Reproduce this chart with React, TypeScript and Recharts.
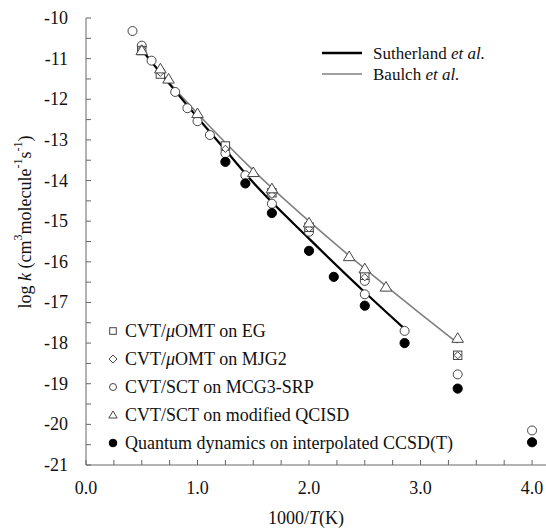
import React from 'react';
import { ComposedChart, Line, Scatter, XAxis, YAxis } from 'recharts';

// ---- data ----
const sutherlandX = [0.5, 0.667, 1.0, 1.25, 1.5, 2.0, 2.5, 2.857];
const sutherlandY = [-10.78, -11.35, -12.45, -13.25, -14.05, -15.43, -16.75, -17.65];
const baulchX = [0.5, 0.75, 1.0, 1.5, 2.0, 2.5, 3.0, 3.333];
const baulchY = [-10.8, -11.6, -12.35, -13.75, -15.0, -16.17, -17.28, -18.0];

const egX = [0.5, 0.667, 1.25, 1.667, 2.0, 2.5, 3.333];
const egY = [-10.8, -11.38, -13.15, -14.3, -15.15, -16.33, -18.3];
const mjgX = [0.5, 0.667, 1.25, 1.667, 2.0, 2.5, 3.333];
const mjgY = [-10.75, -11.35, -13.22, -14.35, -15.18, -16.38, -18.3];
const mcgX = [0.417, 0.5, 0.588, 0.8, 0.909, 1.0, 1.111, 1.25, 1.429, 1.667, 2.0, 2.5, 2.5, 2.857, 3.333, 4.0];
const mcgY = [-10.32, -10.68, -11.05, -11.82, -12.22, -12.54, -12.88, -13.33, -13.87, -14.57, -15.26, -16.47, -16.8, -17.7, -18.77, -20.15];
const qcisdX = [0.5, 0.667, 0.74, 1.0, 1.5, 1.667, 2.0, 2.36, 2.5, 2.69, 3.333];
const qcisdY = [-10.8, -11.25, -11.5, -12.35, -13.8, -14.2, -15.04, -15.87, -16.17, -16.62, -17.88];
const qdX = [1.25, 1.429, 1.667, 2.0, 2.222, 2.5, 2.857, 3.333, 4.0];
const qdY = [-13.54, -14.07, -14.8, -15.73, -16.37, -17.08, -18.0, -19.12, -20.44];

const xTicks = [0, 0.25, 0.5, 0.75, 1, 1.25, 1.5, 1.75, 2, 2.25, 2.5, 2.75, 3, 3.25, 3.5, 3.75, 4];
const yTicks = [-21, -20.5, -20, -19.5, -19, -18.5, -18, -17.5, -17, -16.5, -16, -15.5, -15, -14.5, -14, -13.5, -13, -12.5, -12, -11.5, -11, -10.5, -10];

const zip = (xs: number[], ys: number[]) => xs.map((x, i) => ({ x, y: ys[i] }));

const FONT = '"Liberation Serif", "Times New Roman", serif';
const MK = '#444';
const AX = '#666';

const CircleShape = (r: number) => (p: any) => (
  <circle cx={p.cx} cy={p.cy} r={r} fill="#fff" stroke={MK} strokeWidth={1} />
);
const FilledShape = (r: number) => (p: any) => (
  <circle cx={p.cx} cy={p.cy} r={r} fill="#000" stroke="#000" strokeWidth={1} />
);
const SquareShape = (s: number) => (p: any) => (
  <rect x={p.cx - s} y={p.cy - s} width={2 * s} height={2 * s} fill="#fff" stroke={MK} strokeWidth={1} />
);
const DiamondShape = (s: number) => (p: any) => (
  <polygon
    points={`${p.cx},${p.cy - s} ${p.cx + s},${p.cy} ${p.cx},${p.cy + s} ${p.cx - s},${p.cy}`}
    fill="#fff" stroke={MK} strokeWidth={1} />
);
const TriangleShape = (s: number) => (p: any) => (
  <polygon
    points={`${p.cx},${p.cy - s} ${p.cx + s * 1.05},${p.cy + s * 0.75} ${p.cx - s * 1.05},${p.cy + s * 0.75}`}
    fill="#fff" stroke={MK} strokeWidth={1} />
);

const XTick = (p: any) => {
  const v = p.payload.value;
  const isMajor = Math.abs(v - Math.round(v)) < 1e-6;
  return (
    <g>
      <line x1={p.x} y1={p.y} x2={p.x} y2={p.y - 5} stroke={AX} strokeWidth={1} />
      {isMajor && (
        <text x={p.x} y={p.y + 23} textAnchor="middle" dominantBaseline="central" fontFamily={FONT} fontSize={18} fill="#111">
          {v.toFixed(1)}
        </text>
      )}
    </g>
  );
};

const YTick = (p: any) => {
  const v = p.payload.value;
  const isMajor = Math.abs(v - Math.round(v)) < 1e-6;
  return (
    <g>
      <line x1={p.x} y1={p.y} x2={p.x + 5} y2={p.y} stroke={AX} strokeWidth={1} />
      {isMajor && (
        <text x={p.x - 18} y={p.y} textAnchor="end" dominantBaseline="central" fontFamily={FONT} fontSize={18} fill="#111">
          {String(v)}
        </text>
      )}
    </g>
  );
};

export default function App() {
  const legendRows = [
    { label: <>CVT/<tspan fontStyle="italic">μ</tspan>OMT on EG</>, shape: 'square' },
    { label: <>CVT/<tspan fontStyle="italic">μ</tspan>OMT on MJG2</>, shape: 'diamond' },
    { label: <>CVT/SCT on MCG3-SRP</>, shape: 'circle' },
    { label: <>CVT/SCT on modified QCISD</>, shape: 'triangle' },
    { label: <>Quantum dynamics on interpolated CCSD(T)</>, shape: 'filled' },
  ];
  const legX = 113;
  const legY0 = 331;
  const legDy = 28;
  const sym = (shape: string, cx: number, cy: number) => {
    const p = { cx, cy };
    if (shape === 'square') return SquareShape(3.3)(p);
    if (shape === 'diamond') return DiamondShape(4)(p);
    if (shape === 'circle') return CircleShape(3.5)(p);
    if (shape === 'triangle') return TriangleShape(4)(p);
    return FilledShape(3.8)(p);
  };

  return (
    <div style={{ position: 'absolute', left: 0, top: 0, width: 546, height: 531, background: '#fff' }}>
      <ComposedChart width={546} height={531} margin={{ top: 18, right: 0, left: 0, bottom: 0 }}>
        <XAxis
          xAxisId="top" orientation="top" type="number" domain={[0, 4.125]} height={0}
          tick={false} tickLine={false} axisLine={{ stroke: AX }} allowDataOverflow />
        <XAxis
          type="number" dataKey="x" domain={[0, 4.125]} ticks={xTicks} height={66}
          tick={<XTick />} tickLine={false} tickSize={0} tickMargin={0} axisLine={{ stroke: AX }}
          interval={0} allowDataOverflow />
        <YAxis
          type="number" domain={[-21, -10]} ticks={yTicks} width={86}
          tick={<YTick />} tickLine={false} tickSize={0} tickMargin={0} axisLine={{ stroke: AX }}
          interval={0} allowDataOverflow />
        <Line data={zip(baulchX, baulchY)} dataKey="y" type="monotone" stroke="#808080" strokeWidth={1.6} dot={false} isAnimationActive={false} />
        <Line data={zip(sutherlandX, sutherlandY)} dataKey="y" type="monotone" stroke="#000" strokeWidth={2.2} dot={false} isAnimationActive={false} />
        <Scatter data={zip(mcgX, mcgY)} dataKey="y" shape={CircleShape(4.5)} isAnimationActive={false} />
        <Scatter data={zip(egX, egY)} dataKey="y" shape={SquareShape(4.2)} isAnimationActive={false} />
        <Scatter data={zip(mjgX, mjgY)} dataKey="y" shape={DiamondShape(3.6)} isAnimationActive={false} />
        <Scatter data={zip(qcisdX, qcisdY)} dataKey="y" shape={TriangleShape(5.5)} isAnimationActive={false} />
        <Scatter data={zip(qdX, qdY)} dataKey="y" shape={FilledShape(4.6)} isAnimationActive={false} />
      </ComposedChart>
      <svg width={546} height={531} style={{ position: 'absolute', left: 0, top: 0, pointerEvents: 'none' }}>
        <g fontFamily={FONT} fill="#111">
          <text x={25} y={222} transform="rotate(-90, 25, 222)" textAnchor="middle" dominantBaseline="central" fontSize={18}>
            log <tspan fontStyle="italic">k</tspan> (cm<tspan dy={-7} fontSize={12}>3</tspan><tspan dy={7}>molecule</tspan><tspan dy={-7} fontSize={12}>-1</tspan><tspan dy={7}>s</tspan><tspan dy={-7} fontSize={12}>-1</tspan><tspan dy={7}>)</tspan>
          </text>
          <text x={306} y={518} textAnchor="middle" dominantBaseline="central" fontSize={18}>
            1000/<tspan fontStyle="italic">T</tspan>(K)
          </text>
          <line x1={322} y1={53} x2={362} y2={53} stroke="#000" strokeWidth={2.4} />
          <text x={373} y={53} dominantBaseline="central" fontSize={17}>
            Sutherland <tspan fontStyle="italic">et al.</tspan>
          </text>
          <line x1={322} y1={74} x2={362} y2={74} stroke="#808080" strokeWidth={1.6} />
          <text x={373} y={74} dominantBaseline="central" fontSize={17}>
            Baulch <tspan fontStyle="italic">et al.</tspan>
          </text>
          {legendRows.map((r, i) => (
            <g key={i}>
              {sym(r.shape, legX, legY0 + i * legDy)}
              <text x={125} y={legY0 + i * legDy} dominantBaseline="central" fontSize={18}>
                {r.label}
              </text>
            </g>
          ))}
        </g>
      </svg>
    </div>
  );
}
